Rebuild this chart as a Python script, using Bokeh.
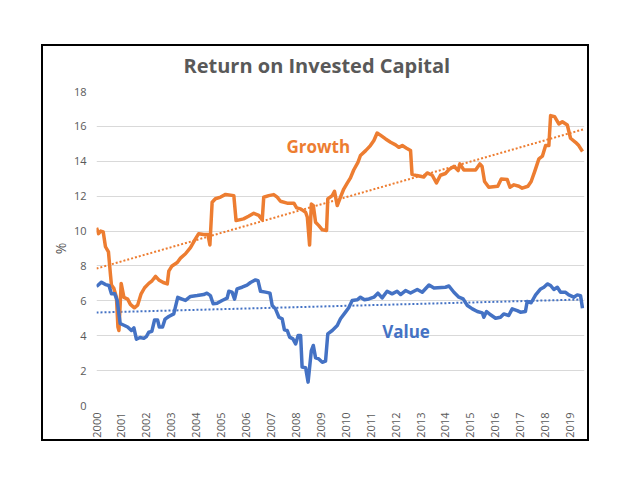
import math
from bokeh.plotting import figure
from bokeh.models import Range1d, FixedTicker, Label, Title
from bokeh.embed import file_html
from bokeh.resources import INLINE

# ---------------- data ----------------
growth_t = [2000.00, 2000.08, 2000.17, 2000.27, 2000.36, 2000.48, 2000.56, 2000.60, 2000.70, 2000.80,
            2000.86, 2000.90, 2000.99, 2001.10, 2001.25, 2001.36, 2001.52, 2001.65, 2001.79, 2001.93,
            2002.10, 2002.23, 2002.37, 2002.50, 2002.68, 2002.84, 2002.90, 2003.03, 2003.24, 2003.37,
            2003.57, 2003.77, 2003.97, 2004.10, 2004.30, 2004.47, 2004.55, 2004.64, 2004.77, 2004.98,
            2005.18, 2005.51, 2005.60, 2005.90, 2006.10, 2006.31, 2006.51, 2006.65, 2006.71, 2006.91,
            2007.11, 2007.25, 2007.38, 2007.65, 2007.92, 2008.03, 2008.19, 2008.39, 2008.46, 2008.55,
            2008.62, 2008.70, 2008.79, 2008.92, 2009.06, 2009.23, 2009.28, 2009.46, 2009.55, 2009.66,
            2009.79, 2009.92, 2010.06, 2010.19, 2010.32, 2010.49, 2010.59, 2010.80, 2010.99, 2011.13,
            2011.26, 2011.39, 2011.60, 2011.80, 2012.00, 2012.13, 2012.27, 2012.44, 2012.60, 2012.66,
            2012.80, 2013.13, 2013.27, 2013.47, 2013.64, 2013.80, 2014.00, 2014.14, 2014.34, 2014.51,
            2014.58, 2014.74, 2015.21, 2015.38, 2015.47, 2015.57, 2015.74, 2016.10, 2016.24, 2016.48,
            2016.59, 2016.75, 2016.95, 2017.08, 2017.31, 2017.44, 2017.58, 2017.75, 2017.89, 2018.02,
            2018.15, 2018.22, 2018.38, 2018.55, 2018.69, 2018.89, 2019.02, 2019.22, 2019.35, 2019.50]
growth_v = [10.18, 9.85, 10.0, 9.95, 9.1, 8.8, 7.5, 6.9, 6.7, 6.2,
            4.5, 4.3, 7.0, 6.2, 6.1, 5.8, 5.6, 5.75, 6.4, 6.75,
            7.0, 7.15, 7.4, 7.2, 7.05, 6.97, 7.7, 8.0, 8.2, 8.45,
            8.7, 9.05, 9.55, 9.85, 9.8, 9.8, 9.2, 11.65, 11.85, 11.95,
            12.1, 12.03, 10.6, 10.7, 10.85, 11.02, 10.9, 10.64, 11.94, 12.03,
            12.09, 11.94, 11.71, 11.6, 11.6, 11.33, 11.27, 11.08, 10.79, 9.2,
            11.55, 11.46, 10.5, 10.31, 10.07, 10.03, 11.84, 12.03, 12.28, 11.46,
            11.94, 12.41, 12.75, 13.05, 13.5, 13.94, 14.33, 14.61, 14.9, 15.19,
            15.62, 15.5, 15.28, 15.09, 14.94, 14.8, 14.9, 14.75, 14.62, 13.25,
            13.2, 13.1, 13.33, 13.2, 12.76, 13.2, 13.3, 13.52, 13.71, 13.47,
            13.85, 13.5, 13.5, 13.85, 13.7, 12.84, 12.51, 12.57, 12.99, 12.95,
            12.51, 12.65, 12.57, 12.46, 12.57, 12.84, 13.41, 14.14, 14.29, 14.9,
            14.9, 16.62, 16.56, 16.14, 16.27, 16.08, 15.32, 15.09, 14.9, 14.56]

value_t = [2000.00, 2000.20, 2000.36, 2000.50, 2000.60, 2000.73, 2000.83, 2000.95, 2001.10, 2001.25,
           2001.40, 2001.50, 2001.60, 2001.75, 2001.90, 2002.00, 2002.10, 2002.22, 2002.33, 2002.45,
           2002.52, 2002.65, 2002.75, 2002.90, 2003.10, 2003.26, 2003.43, 2003.57, 2003.77, 2004.04,
           2004.30, 2004.43, 2004.57, 2004.68, 2004.84, 2005.04, 2005.24, 2005.31, 2005.44, 2005.54,
           2005.64, 2005.84, 2006.04, 2006.18, 2006.38, 2006.48, 2006.58, 2006.78, 2006.96, 2007.05,
           2007.18, 2007.32, 2007.45, 2007.54, 2007.65, 2007.75, 2007.88, 2007.99, 2008.09, 2008.19,
           2008.25, 2008.39, 2008.49, 2008.62, 2008.70, 2008.79, 2008.92, 2009.06, 2009.19, 2009.28,
           2009.46, 2009.66, 2009.79, 2009.99, 2010.12, 2010.26, 2010.46, 2010.59, 2010.75, 2010.93,
           2011.13, 2011.29, 2011.46, 2011.66, 2011.86, 2012.06, 2012.20, 2012.40, 2012.60, 2012.87,
           2013.07, 2013.34, 2013.54, 2014.00, 2014.14, 2014.34, 2014.54, 2014.71, 2014.88, 2015.08,
           2015.28, 2015.48, 2015.54, 2015.65, 2015.81, 2016.01, 2016.21, 2016.34, 2016.54, 2016.68,
           2016.88, 2017.01, 2017.21, 2017.28, 2017.44, 2017.62, 2017.82, 2017.95, 2018.09, 2018.22,
           2018.35, 2018.49, 2018.62, 2018.82, 2018.95, 2019.15, 2019.29, 2019.42, 2019.50]
value_v = [6.82, 7.07, 6.93, 6.88, 6.4, 6.4, 6.02, 4.7, 4.6, 4.5,
           4.3, 4.45, 3.8, 3.9, 3.85, 3.95, 4.2, 4.25, 4.9, 4.9,
           4.5, 4.5, 4.95, 5.1, 5.25, 6.2, 6.1, 6.02, 6.25, 6.3,
           6.36, 6.44, 6.3, 5.83, 5.86, 6.02, 6.15, 6.55, 6.5, 6.1,
           6.69, 6.78, 6.9, 7.05, 7.2, 7.16, 6.55, 6.5, 6.44, 5.73,
           5.54, 5.06, 4.97, 4.34, 4.3, 3.92, 3.82, 3.53, 4.01, 4.01,
           2.2, 2.16, 1.34, 3.15, 3.44, 2.73, 2.67, 2.48, 2.54, 4.11,
           4.3, 4.58, 4.97, 5.35, 5.6, 6.02, 6.06, 6.21, 6.06, 6.11,
           6.21, 6.44, 6.17, 6.55, 6.4, 6.55, 6.36, 6.59, 6.45, 6.65,
           6.49, 6.91, 6.74, 6.78, 6.85, 6.49, 6.21, 6.11, 5.73, 5.54,
           5.39, 5.31, 5.06, 5.39, 5.2, 5.0, 5.06, 5.25, 5.16, 5.54,
           5.44, 5.35, 5.39, 5.96, 5.89, 6.34, 6.68, 6.78, 6.97, 6.88,
           6.65, 6.78, 6.49, 6.49, 6.34, 6.21, 6.34, 6.3, 5.58]

# linear trend lines (start / end values as drawn in the reference)
trend_t = [2000.0, 2019.58]
growth_trend = [7.85, 15.85]
value_trend = [5.33, 6.08]

year_ticks = list(range(2000, 2020))
year_labels = [str(y) for y in year_ticks]
y_ticks = [0, 2, 4, 6, 8, 10, 12, 14, 16, 18]

title_text = "Return on Invested Capital"
growth_name = "Growth"
value_name = "Value"

# ---------------- styling ----------------
ORANGE = "#ED7D31"
BLUE = "#4472C4"
GREY = "#595959"
FONT = "Open Sans"

p = figure(width=548, height=397, output_backend="svg", toolbar_location=None,
           x_range=Range1d(2000, 2019.58), y_range=Range1d(0, 18),
           min_border_left=53, min_border_right=7, min_border_top=45, min_border_bottom=38,
           background_fill_color="white", border_fill_color="white")
p.margin = (44, 0, 0, 41)
p.styles = {"border": "2px solid #000000"}
p.outline_line_color = None
p.title_location = None

# a thin empty band between the frame and the title (keeps the title higher)
gap_band = Title(text="\u00a0", text_font_size="8px", standoff=0)
p.add_layout(gap_band, "above")
main_title = Title(text=title_text, text_font=FONT, text_font_size="20px",
                   text_font_style="bold", text_color=GREY, align="left",
                   offset=87, vertical_align="top", standoff=0)
p.add_layout(main_title, "above")

# grid
p.xgrid.grid_line_color = None
p.ygrid.grid_line_color = "#D9D9D9"
p.ygrid.grid_line_width = 1
p.yaxis.ticker = FixedTicker(ticks=y_ticks)
p.xaxis.ticker = FixedTicker(ticks=year_ticks)
p.xaxis.major_label_overrides = {t: s for t, s in zip(year_ticks, year_labels)}

for ax in (p.xaxis[0], p.yaxis[0]):
    ax.axis_line_color = None
    ax.major_tick_line_color = None
    ax.minor_tick_line_color = None
    ax.major_tick_out = 0
    ax.major_tick_in = 0
    ax.major_label_text_font = FONT
    ax.major_label_text_font_size = "11px"
    ax.major_label_text_color = GREY

p.xaxis.major_label_orientation = math.pi / 2
p.xaxis.major_label_standoff = 7
p.yaxis.major_label_standoff = 10
p.yaxis.axis_label = "%"
p.yaxis.axis_label_text_font = FONT
p.yaxis.axis_label_text_font_size = "14px"
p.yaxis.axis_label_text_font_style = "normal"
p.yaxis.axis_label_text_color = GREY
p.yaxis.axis_label_standoff = 1

# trend lines
p.line(trend_t, growth_trend, line_color=ORANGE, line_width=2, line_dash="2 2")
p.line(trend_t, value_trend, line_color=BLUE, line_width=2, line_dash="2 2")

# series
p.line(growth_t, growth_v, line_color=ORANGE, line_width=3.5, line_join="round")
p.line(value_t, value_v, line_color=BLUE, line_width=3.5, line_join="round")

p.add_layout(Label(x=2008.9, y=14.84, text=growth_name, text_color=ORANGE,
                   text_font=FONT, text_font_size="17px", text_font_style="bold",
                   text_align="center", text_baseline="middle"))
p.add_layout(Label(x=2012.42, y=4.24, text=value_name, text_color=BLUE,
                   text_font=FONT, text_font_size="17px", text_font_style="bold",
                   text_align="center", text_baseline="middle"))

open("out.html", "w").write(file_html(p, INLINE))
